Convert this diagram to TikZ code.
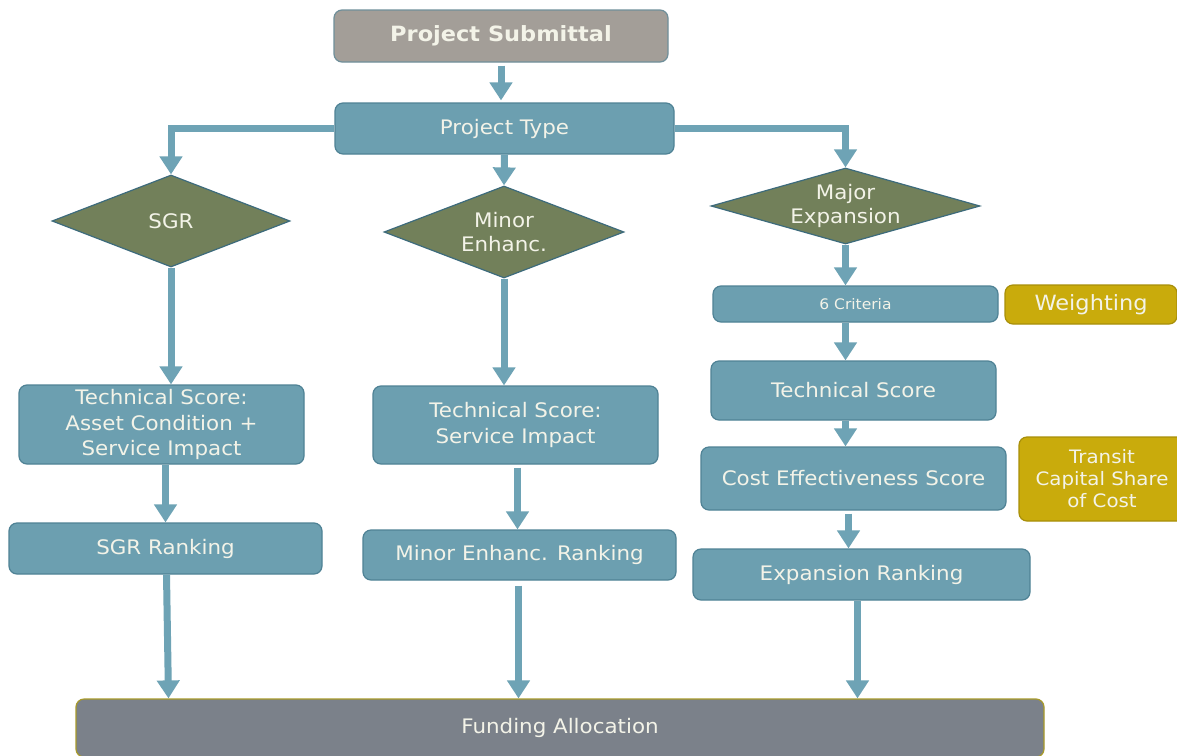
\documentclass[tikz,border=0pt]{standalone}
\usepackage{fontspec}
\setmainfont[FakeStretch=1.07]{DejaVu Sans}
\usetikzlibrary{shapes.geometric,arrows.meta,calc}
\definecolor{boxfill}{HTML}{6C9FB0}
\definecolor{boxline}{HTML}{4F8295}
\definecolor{arrcol}{HTML}{6EA3B5}
\definecolor{diafill}{HTML}{72805A}
\definecolor{dialine}{HTML}{3D6B7C}
\definecolor{goldfill}{HTML}{C9AB0C}
\definecolor{goldline}{HTML}{A88F0A}
\definecolor{subfill}{HTML}{A39E98}
\definecolor{subline}{HTML}{6F8F9A}
\definecolor{fundfill}{HTML}{7B818A}
\definecolor{fundline}{HTML}{A89A2A}
\definecolor{txtcol}{HTML}{F3F3E8}
\begin{document}
\begin{tikzpicture}[x=1pt,y=-1pt,
  box/.style={draw=boxline, line width=1.2pt, fill=boxfill, rounded corners=8pt,
    text=txtcol, font=\fontsize{20}{25.5}\selectfont, align=center, inner sep=0pt},
  gold/.style={box, draw=goldline, fill=goldfill},
  dia/.style={diamond, draw=dialine, line width=1.2pt, fill=diafill, inner sep=0pt},
  dtext/.style={text=txtcol, font=\fontsize{20}{24}\selectfont, align=center, inner sep=0pt},
  arr/.style={draw=arrcol, line width=7pt, -{Triangle[width=22pt,length=18pt]}}]
\useasboundingbox (0,0) rectangle (1177,755);
\fill[white] (0,0) rectangle (1177,755);
\clip (0,0) rectangle (1177,755);

\node[box, draw=subline, fill=subfill, minimum width=334pt, minimum height=52pt,
  font=\fontsize{21}{26}\selectfont\bfseries] (sub) at (501,36) {Project Submittal};
\node[box, minimum width=339pt, minimum height=51pt] (type) at (504.5,128.5) {Project Type};

\node[dia, minimum width=238pt, minimum height=92pt,
  label={[dtext]center:SGR}] (sgr) at (171,221) {};
\node[dia, minimum width=240pt, minimum height=92pt,
  label={[dtext]center:Minor\\Enhanc.}] (minor) at (504,232) {};
\node[dia, minimum width=269pt, minimum height=76pt,
  label={[dtext]center:Major\\Expansion}] (major) at (845.5,206) {};

\node[box, minimum width=285pt, minimum height=36pt, font=\fontsize{14.5}{17}\selectfont] (crit) at (855.5,304) {6 Criteria};
\node[gold, minimum width=172pt, minimum height=39pt, font=\fontsize{21}{25}\selectfont] (weight) at (1091,304.5) {Weighting};
\node[box, minimum width=285pt, minimum height=59pt] (ts) at (853.5,390.5) {Technical Score};
\node[box, minimum width=305pt, minimum height=63pt] (cost) at (853.5,478.5) {Cost Effectiveness Score};
\node[gold, minimum width=166pt, minimum height=84pt, font=\fontsize{18.5}{22}\selectfont] (transit) at (1102,479) {Transit\\Capital Share\\of Cost};
\node[box, minimum width=337pt, minimum height=51pt] (exp) at (861.5,574.5) {Expansion Ranking};

\node[box, minimum width=285pt, minimum height=79pt] (tssgr) at (161.5,424.5) {Technical Score:\\Asset Condition +\\Service Impact};
\node[box, minimum width=285pt, minimum height=78pt] (tsmin) at (515.5,425) {Technical Score:\\Service Impact};
\node[box, minimum width=313pt, minimum height=51pt] (sgrr) at (165.5,548.5) {SGR Ranking};
\node[box, minimum width=313pt, minimum height=50pt] (minr) at (519.5,555) {Minor Enhanc. Ranking};

\node[box, draw=fundline, fill=fundfill, minimum width=968pt, minimum height=58pt] (fund) at (560,728) {Funding Allocation};

% connectors
\draw[arr, shorten <=3pt, shorten >=2pt] (sub.south) -- (sub.south |- type.north);
\draw[arr] (type.west) -| (sgr.north);
\draw[arr] (type.south) -- (minor.north);
\draw[arr] (type.east) -| (major.north);
\draw[arr] (sgr.south) -- (sgr.south |- tssgr.north);
\draw[arr] (minor.south) -- (minor.south |- tsmin.north);
\draw[arr] (major.south) -- (major.south |- crit.north);
\draw[arr] (major.south |- crit.south) -- (major.south |- ts.north);
\draw[arr] (major.south |- ts.south) -- (major.south |- cost.north);
\draw[arr, shorten <=3pt] ($(major.south |- cost.south)+(3,0)$) -- ($(major.south |- exp.north)+(3,0)$);
\draw[arr] ($(exp.south)+(-4,0)$) -- ($(exp.south |- fund.north)+(-4,0)$);
\draw[arr] ($(tssgr.south)+(4,0)$) -- ($(tssgr.south |- sgrr.north)+(4,0)$);
\draw[arr, shorten <=3pt] ($(tsmin.south)+(2,0)$) -- ($(tsmin.south |- minr.north)+(2,0)$);
\draw[arr] ($(sgrr.south)+(1,0)$) -- ($(sgrr.south |- fund.north)+(3,0)$);
\draw[arr, shorten <=5pt] ($(minr.south)+(-1,0)$) -- ($(minr.south |- fund.north)+(-1,0)$);
\end{tikzpicture}
\end{document}
